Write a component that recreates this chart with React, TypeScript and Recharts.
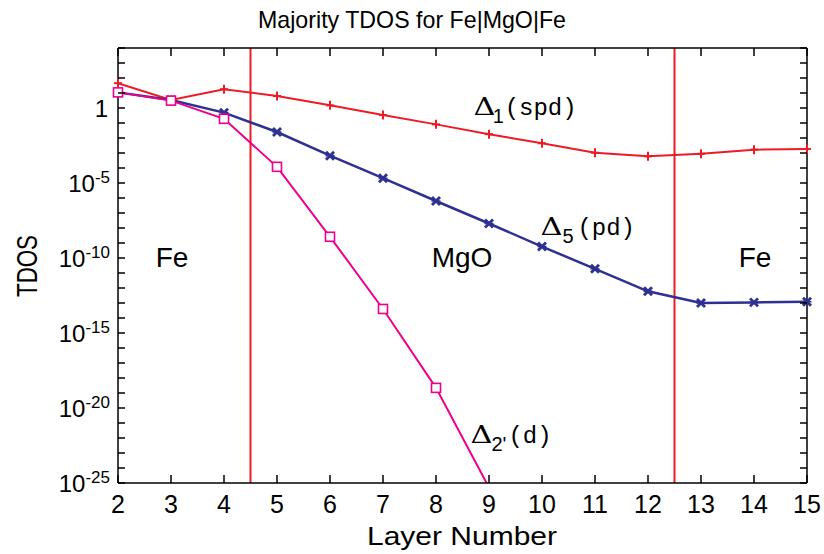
import React from "react";
import { LineChart, Line, XAxis, YAxis, ReferenceLine, ReferenceDot } from "recharts";

// layer index along the stack
const layers = [2, 3, 4, 5, 6, 7, 8, 9, 10, 11, 12, 13, 14, 15];

// majority TDOS per symmetry channel
const spdValues = [45, 3.4, 18, 6.3, 1.5, 0.34, 0.081, 0.018, 4.5e-3, 1.05e-3, 6e-4, 8.9e-4, 1.66e-3, 1.86e-3];
const pdValues = [11, 3.4, 0.49, 0.025, 6.6e-4, 2.1e-5, 6.3e-7, 2.0e-8, 5.8e-10, 1.9e-11, 6.0e-13, 1.0e-13, 1.1e-13, 1.2e-13];
const dValues = [11, 3.1, 0.19, 1.2e-4, 2.6e-9, 4e-14, 2.2e-19, 5e-26, null, null, null, null, null, null];

// interface positions (Fe | MgO | Fe)
const interfaces = [4.5, 12.5];

const Y_MIN = 1e-25;
const Y_MAX = 1e4;
const yTicks = Array.from({ length: 30 }, (_, i) => Number(`1e${i - 25}`));

const RED = "#ed1c24";
const NAVY = "#2e3192";
const MAGENTA = "#ec008c";
const SANS = "'Liberation Sans', Arial, Helvetica, sans-serif";
const MONO = "'Liberation Mono', 'Courier New', monospace";
const SERIF = "'DejaVu Serif', 'Liberation Serif', serif";

const rows = layers.map((layer, i) => ({
  layer,
  spd: spdValues[i],
  pd: pdValues[i],
  d: dValues[i],
}));

const BottomTick = ({ x, y, payload }: any) => (
  <g>
    <line x1={x} y1={y} x2={x} y2={y - 8} stroke="#000" strokeWidth={1.5} />
    <text x={x} y={y + 30} textAnchor="middle" fontSize={25} fontFamily={SANS} fill="#000">
      {payload.value}
    </text>
  </g>
);

const TopTick = ({ x, y }: any) => (
  <line x1={x} y1={y} x2={x} y2={y + 8} stroke="#000" strokeWidth={1.5} />
);

const LeftTick = ({ x, y, payload }: any) => {
  const exp = Math.round(Math.log10(payload.value));
  const labeled = exp <= 0 && exp % 5 === 0;
  return (
    <g>
      <line x1={x} y1={y} x2={x + 7} y2={y} stroke="#000" strokeWidth={1.5} />
      {labeled && exp === 0 && (
        <text x={x - 10} y={y + 8.5} textAnchor="end" fontSize={24} fontFamily={SANS} fill="#000">
          1
        </text>
      )}
      {labeled && exp !== 0 && (
        <text x={x - 8} y={y + 8.5} textAnchor="end" fontSize={24} fontFamily={SANS} fill="#000">
          10
          <tspan dy={-8.5} fontSize={17}>
            {`${exp}`}
          </tspan>
        </text>
      )}
    </g>
  );
};

const RightTick = ({ x, y }: any) => (
  <line x1={x} y1={y} x2={x - 7} y2={y} stroke="#000" strokeWidth={1.5} />
);

const PlusDot = ({ cx, cy, index }: any) => (
  <g key={`p-${index}`}>
    <line x1={cx - 4} y1={cy} x2={cx + 4} y2={cy} stroke={RED} strokeWidth={2} />
    <line x1={cx} y1={cy - 4.5} x2={cx} y2={cy + 4.5} stroke={RED} strokeWidth={2} />
  </g>
);

const StarDot = ({ cx, cy, index }: any) => (
  <g key={`s-${index}`}>
    <line x1={cx - 4} y1={cy - 4} x2={cx + 4} y2={cy + 4} stroke={NAVY} strokeWidth={2.8} />
    <line x1={cx - 4} y1={cy + 4} x2={cx + 4} y2={cy - 4} stroke={NAVY} strokeWidth={2.8} />
    <line x1={cx - 4.5} y1={cy} x2={cx + 4.5} y2={cy} stroke={NAVY} strokeWidth={1.5} />
  </g>
);

const SquareDot = ({ cx, cy, index }: any) => {
  if (cx == null || cy == null) return <g key={`q-${index}`} />;
  return (
    <rect
      key={`q-${index}`}
      x={cx - 4.5}
      y={cy - 4.5}
      width={9}
      height={9}
      fill="#fff"
      stroke={MAGENTA}
      strokeWidth={1.6}
    />
  );
};

const DeltaTag = ({ cx, cy, sub, subDx, body, bodyDx }: any) => (
  <g>
    <text x={cx} y={cy} fontFamily={SERIF} fontSize={24} textLength={22} lengthAdjust="spacingAndGlyphs" fill="#000">
      Δ
    </text>
    <text x={cx + subDx} y={cy + 8} fontFamily={SANS} fontSize={20} fill="#000">
      {sub}
    </text>
    <text x={cx + bodyDx} y={cy} fontFamily={MONO} fontSize={24} fill="#000">
      {body}
    </text>
  </g>
);

const RegionTag = ({ cx, cy, text }: any) => (
  <text x={cx} y={cy} textAnchor="middle" fontFamily={SANS} fontSize={28} fill="#000">
    {text}
  </text>
);

const frame = { stroke: "#000", strokeWidth: 1.5 };

export default function App() {
  return (
    <div style={{ position: "absolute", left: 0, top: 0, width: 824, height: 554, background: "#fff" }}>
      <LineChart width={824} height={554} data={rows} margin={{ top: 47, right: 16, bottom: 70, left: 117 }}>
        <XAxis
          xAxisId="b"
          dataKey="layer"
          type="number"
          domain={[2, 15]}
          ticks={layers}
          interval={0}
          height={1}
          tickSize={0}
          tickMargin={0}
          tickLine={false}
          tick={<BottomTick />}
          axisLine={frame}
        />
        <XAxis
          xAxisId="t"
          orientation="top"
          dataKey="layer"
          type="number"
          domain={[2, 15]}
          ticks={layers}
          interval={0}
          height={1}
          tickSize={0}
          tickMargin={0}
          tickLine={false}
          tick={<TopTick />}
          axisLine={frame}
        />
        <YAxis
          yAxisId="l"
          type="number"
          scale="log"
          domain={[Y_MIN, Y_MAX]}
          ticks={yTicks}
          interval={0}
          width={1}
          tickSize={0}
          tickMargin={0}
          tickLine={false}
          tick={<LeftTick />}
          axisLine={frame}
        />
        {/* right frame axis; also clips the Δ2' line where it drops below 1e-25 */}
        <YAxis
          yAxisId="r"
          orientation="right"
          type="number"
          scale="log"
          domain={[Y_MIN, Y_MAX]}
          allowDataOverflow
          ticks={yTicks}
          interval={0}
          width={1}
          tickSize={0}
          tickMargin={0}
          tickLine={false}
          tick={<RightTick />}
          axisLine={frame}
        />

        {interfaces.map((x) => (
          <ReferenceLine key={x} xAxisId="b" yAxisId="l" x={x} stroke={RED} strokeWidth={2} />
        ))}

        <Line
          xAxisId="b"
          yAxisId="l"
          dataKey="spd"
          type="linear"
          stroke={RED}
          strokeWidth={2}
          dot={PlusDot}
          activeDot={false}
          isAnimationActive={false}
        />
        <Line
          xAxisId="b"
          yAxisId="l"
          dataKey="pd"
          type="linear"
          stroke={NAVY}
          strokeWidth={2.5}
          dot={StarDot}
          activeDot={false}
          isAnimationActive={false}
        />
        <Line
          xAxisId="b"
          yAxisId="r"
          dataKey="d"
          type="linear"
          stroke={MAGENTA}
          strokeWidth={2}
          dot={false}
          activeDot={false}
          isAnimationActive={false}
        />
        <Line
          xAxisId="b"
          yAxisId="l"
          dataKey={(r: any) => (r.d != null && r.d >= Y_MIN ? r.d : null)}
          type="linear"
          stroke="none"
          dot={SquareDot}
          activeDot={false}
          isAnimationActive={false}
        />

        <ReferenceDot
          xAxisId="b"
          yAxisId="l"
          x={8.71}
          y={0.341}
          shape={(p: any) => <DeltaTag cx={p.cx} cy={p.cy} sub="1" subDx={19} body="(spd)" bodyDx={31} />}
        />
        <ReferenceDot
          xAxisId="b"
          yAxisId="l"
          x={9.97}
          y={3.41e-9}
          shape={(p: any) => <DeltaTag cx={p.cx} cy={p.cy} sub="5" subDx={22} body="(pd)" bodyDx={37} />}
        />
        <ReferenceDot
          xAxisId="b"
          yAxisId="l"
          x={8.65}
          y={4.67e-23}
          shape={(p: any) => <DeltaTag cx={p.cx} cy={p.cy} sub="2'" subDx={21} body="(d)" bodyDx={38} />}
        />
        <ReferenceDot
          xAxisId="b"
          yAxisId="l"
          x={3.02}
          y={2.5e-11}
          shape={(p: any) => <RegionTag cx={p.cx} cy={p.cy} text="Fe" />}
        />
        <ReferenceDot
          xAxisId="b"
          yAxisId="l"
          x={8.49}
          y={2.5e-11}
          shape={(p: any) => <RegionTag cx={p.cx} cy={p.cy} text="MgO" />}
        />
        <ReferenceDot
          xAxisId="b"
          yAxisId="l"
          x={14.02}
          y={2.5e-11}
          shape={(p: any) => <RegionTag cx={p.cx} cy={p.cy} text="Fe" />}
        />
      </LineChart>

      <svg
        width={824}
        height={554}
        style={{ position: "absolute", left: 0, top: 0, pointerEvents: "none" }}
      >
        <text x={258} y={28} fontFamily={SANS} fontSize={24} textLength={308} lengthAdjust="spacingAndGlyphs" fill="#000">
          Majority TDOS for Fe|MgO|Fe
        </text>
        <text x={367} y={545} fontFamily={SANS} fontSize={25} textLength={190} lengthAdjust="spacingAndGlyphs" fill="#000">
          Layer Number
        </text>
        <text
          x={37}
          y={266}
          transform="rotate(-90, 37, 266)"
          textAnchor="middle"
          fontFamily={SANS}
          fontSize={30}
          textLength={62}
          lengthAdjust="spacingAndGlyphs"
          fill="#000"
        >
          TDOS
        </text>
      </svg>
    </div>
  );
}
